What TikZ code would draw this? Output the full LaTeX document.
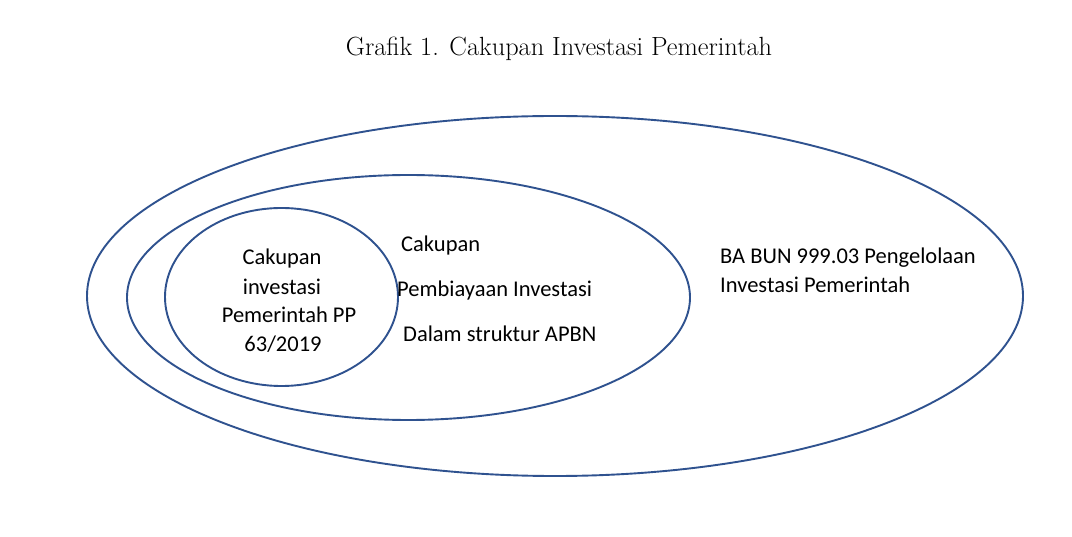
\documentclass[tikz,border=0pt]{standalone}
\usepackage{fontspec}
\setmainfont{Carlito}
\newfontfamily\titlefont{Latin Modern Roman}
\usetikzlibrary{shapes.geometric}
\definecolor{lineblue}{HTML}{2F528F}
\tikzset{
  ring/.style={ellipse, draw=lineblue, line width=1.9pt, inner sep=0pt},
  lbl/.style={inner sep=0pt, font=\fontsize{22.5}{26}\selectfont},
}
\begin{document}
\begin{tikzpicture}[x=1pt,y=-1pt]
\useasboundingbox[fill=white] (0,0) rectangle (1072,537);
\node[inner sep=0pt, anchor=base, font=\titlefont\fontsize{26.3}{30}\selectfont] (title) at (559,56) {Grafik 1. Cakupan Investasi Pemerintah};
\node[ring, minimum width=936pt, minimum height=360pt] (outer) at (555,296) {};
\node[ring, minimum width=563pt, minimum height=245pt] (middle) at (408.5,297.5) {};
\node[ring, minimum width=233pt, minimum height=178pt] (inner) at (281.5,297) {};
% inner text
\node[lbl, anchor=base] (i1) at (282,265) {Cakupan};
\node[lbl, anchor=base] (i2) at (282,295) {investasi};
\node[lbl, anchor=base] (i3) at (289,323) {Pemerintah PP};
\node[lbl, anchor=base] (i4) at (283,352) {63/2019};
% middle text
\node[lbl, anchor=base west] (m1) at (401,252) {Cakupan};
\node[lbl, anchor=base west] (m2) at (397,297) {Pembiayaan Investasi};
\node[lbl, anchor=base west] (m3) at (403,342) {Dalam struktur APBN};
% outer text
\node[lbl, anchor=base west] (o1) at (720,264) {BA BUN 999.03 Pengelolaan};
\node[lbl, anchor=base west] (o2) at (720,293) {Investasi Pemerintah};
\end{tikzpicture}
\end{document}
